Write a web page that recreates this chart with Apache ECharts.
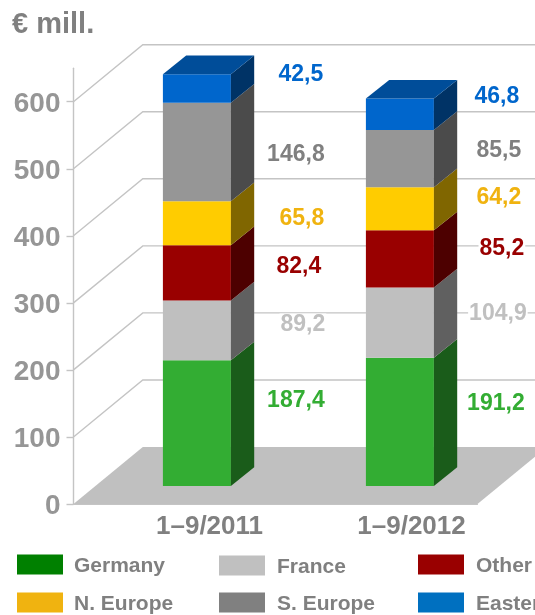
<!DOCTYPE html>
<html>
<head>
<meta charset="utf-8">
<title>€ mill.</title>
<style>
  html, body { margin: 0; padding: 0; background: #fff; overflow: hidden; }
  #main { width: 535px; height: 615px; }
</style>
<script src="https://cdn.jsdelivr.net/npm/echarts@6/dist/echarts.min.js"></script>
</head>
<body>
<div id="main"></div>
<script>
// values
const categories = ['1–9/2011', '1–9/2012'];
const germany = [187.4, 191.2];
const france = [89.2, 104.9];
const other = [82.4, 85.2];
const nEurope = [65.8, 64.2];
const sEurope = [146.8, 85.5];
const eastern = [42.5, 46.8];
const yTicks = [0, 100, 200, 300, 400, 500, 600];

const FONT = '"Liberation Sans", Arial, sans-serif';

// bottom of the stack first
const stack = [
  {name: 'Germany', values: germany, legend: '#008000', face: '#33ad33', side: '#1a5c1a', text: '#33ad33',
    nudge: [[99, -22.5], [96, -18.5]]},
  {name: 'France', values: france, legend: '#c0c0c0', face: '#bfbfbf', side: '#606060', text: '#c0c0c0',
    nudge: [[106, -5.5], [98, -8.5]]},
  {name: 'Other', values: other, legend: '#990000', face: '#990000', side: '#4d0000', text: '#990000',
    nudge: [[102, -6], [102, -10.5]]},
  {name: 'N. Europe', values: nEurope, legend: '#f0b310', face: '#ffcc00', side: '#806600', text: '#f0b310',
    nudge: [[105, -4.5], [99, -11.5]]},
  {name: 'S. Europe', values: sEurope, legend: '#808080', face: '#969696', side: '#4b4b4b', text: '#808080',
    nudge: [[99, 2.5], [99, -8]]},
  {name: 'Eastern Europe', values: eastern, legend: '#0070c0', face: '#0066cc', side: '#003366', text: '#0066cc',
    nudge: [[104, -13.5], [97, -17.5]]}
];

// fake 3D: how far the back wall and the bar depth go, in pixels
const WALL_DX = 69.3, WALL_DY = -57;
const BAR_DX = 23.3, BAR_DY = -18.7;
const BAR_SHIFT = [22.4, 23.4], BAR_FLOOR = -18, BAR_HALF = 34;

function renderWall(params, api) {
  const v = api.value(0);
  const p = api.coord([0, v]);
  const left = p[0] - 101;
  const size = api.size([1, 0]);
  const right = left + size[0] * 2;
  const y = p[1];
  if (v === 0) {
    return {
      type: 'polygon',
      shape: {points: [[left, y], [left + WALL_DX, y + WALL_DY], [right + WALL_DX, y + WALL_DY], [right, y]]},
      style: {fill: '#c0c0c0'}
    };
  }
  return {
    type: 'polyline',
    shape: {points: [[left, y], [left + WALL_DX, y + WALL_DY], [right + WALL_DX, y + WALL_DY]]},
    style: {fill: null, stroke: '#c4c4c4', lineWidth: 1.4}
  };
}

function makeRenderer(item, isTop) {
  return function (params, api) {
    const cat = api.value(0);
    const value = api.value(1);
    const base = api.value(2);
    const bottom = api.coord([cat, base]);
    const top = api.coord([cat, base + value]);
    const cx = bottom[0] + BAR_SHIFT[cat];
    const x0 = cx - BAR_HALF, x1 = cx + BAR_HALF;
    const y0 = bottom[1] + BAR_FLOOR, y1 = top[1] + BAR_FLOOR;
    const nudge = item.nudge[cat];
    const children = [
      {type: 'polygon', shape: {points: [[x0, y0], [x1, y0], [x1, y1], [x0, y1]]}, style: {fill: item.face}},
      {type: 'polygon', shape: {points: [[x1, y0], [x1 + BAR_DX, y0 + BAR_DY], [x1 + BAR_DX, y1 + BAR_DY], [x1, y1]]},
        style: {fill: item.side}}
    ];
    if (isTop) {
      children.push({type: 'polygon',
        shape: {points: [[x0, y1], [x1, y1], [x1 + BAR_DX, y1 + BAR_DY], [x0 + BAR_DX, y1 + BAR_DY]]},
        style: {fill: '#004d99'}});
    }
    children.push({type: 'text', z2: 10,
      style: {
        x: cx + nudge[0], y: (y0 + y1) / 2 + nudge[1],
        text: value.toFixed(1).replace('.', ','),
        font: 'bold 23px ' + FONT,
        fill: item.text, align: 'center', verticalAlign: 'middle',
        backgroundColor: '#fff', padding: [0, 1]
      }});
    return {type: 'group', children: children};
  };
}

const series = [{
  type: 'custom',
  name: 'walls',
  silent: true,
  data: yTicks.map(v => [v]),
  encode: {y: 0},
  renderItem: renderWall
}];

const running = categories.map(() => 0);
stack.forEach(function (item, i) {
  const rows = item.values.map(function (v, c) {
    const row = [c, v, running[c]];
    running[c] += v;
    return row;
  });
  series.push({
    type: 'custom',
    name: item.name,
    silent: true,
    itemStyle: {color: item.legend},
    data: rows,
    encode: {x: 0, y: 1},
    renderItem: makeRenderer(item, i === stack.length - 1)
  });
});

function legendColumn(left, top, gap, textLeft, names) {
  return {
    orient: 'vertical', left: left, top: top, height: 100, itemGap: gap,
    itemWidth: 46, itemHeight: 20, icon: 'rect',
    selectedMode: false, padding: 0,
    data: names,
    formatter: '{a|{name}}',
    textStyle: {
      rich: {a: {color: '#808080', fontFamily: FONT, fontWeight: 'bold', fontSize: 21, lineHeight: 16,
        padding: [4, 0, 0, textLeft]}}
    }
  };
}

const myChart = echarts.init(document.getElementById('main'), null, {renderer: 'canvas'});
myChart.setOption({
  animation: false,
  backgroundColor: '#fff',
  title: {
    text: '€ mill.', left: 12, top: 10,
    padding: 0,
    textStyle: {color: '#808080', fontFamily: FONT, fontWeight: 'bold', fontSize: 29}
  },
  legend: [
    legendColumn(17, 552, 13, 6, ['Germany', 'N. Europe']),
    legendColumn(219, 553, 12, 7, ['France', 'S. Europe']),
    legendColumn(418, 552, 13, 7, ['Other', 'Eastern Europe'])
  ],
  grid: {left: 73.5, top: 68.2, width: 404, height: 435.8},
  xAxis: {
    type: 'category',
    data: categories,
    axisLine: {lineStyle: {color: '#c4c4c4', width: 1}},
    axisTick: {show: false},
    axisLabel: {
      color: '#808080', fontFamily: FONT, fontWeight: 'bold', fontSize: 26,
      margin: 10, padding: [0, 0, 0, 70]
    }
  },
  yAxis: {
    type: 'value', min: 0, max: 650, interval: 100,
    splitLine: {show: false},
    axisLine: {show: true, lineStyle: {color: '#c4c4c4', width: 1.4}},
    axisTick: {show: true, length: 7, lineStyle: {color: '#c4c4c4', width: 1.4}, customValues: yTicks},
    axisLabel: {
      margin: 13, customValues: yTicks,
      formatter: '{a|{value}}',
      rich: {a: {color: '#969696', fontFamily: FONT, fontWeight: 'bold', fontSize: 28, padding: [5, 0, 0, 0]}}
    }
  },
  series: series
});
</script>
</body>
</html>
